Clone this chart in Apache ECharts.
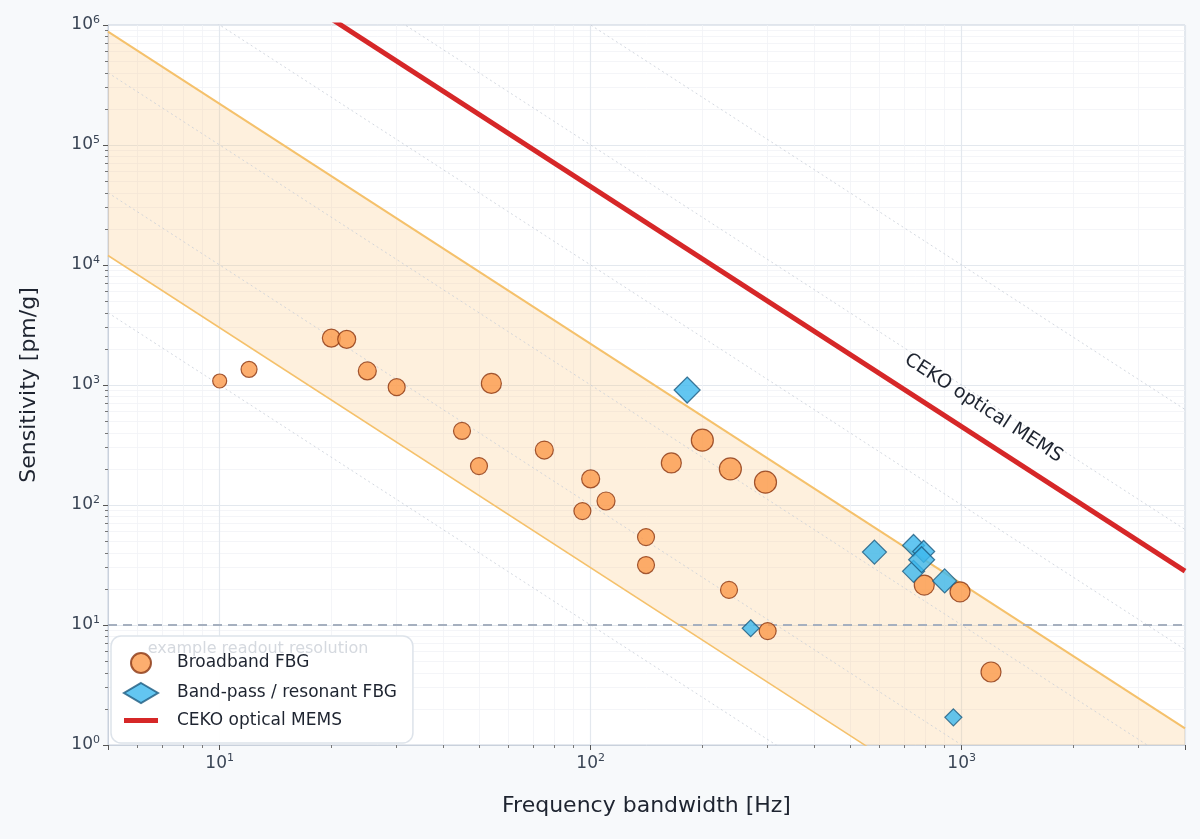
<!DOCTYPE html>
<html><head><meta charset="utf-8">
<script src="https://cdn.jsdelivr.net/npm/echarts@6/dist/echarts.min.js"></script>
<style>html,body{margin:0;background:#f7f9fb}#c{width:1200px;height:839px}</style>
</head><body><div id="c"></div>
<script>
// broadband FBG: [bandwidth Hz, sensitivity pm/g]
const bbFreq = [10, 12, 20, 22, 25, 30, 54, 45, 50, 75, 100, 110, 95, 141, 141, 165, 200, 238, 296, 236, 300, 793, 990, 1200];
const bbSens = [1080, 1350, 2460, 2400, 1310, 960, 1030, 414, 211, 287, 165, 108, 89, 54, 31.6, 224, 347, 200, 155, 19.6, 8.9, 21.5, 18.9, 4.06];
const bbSize = [14, 16, 18, 18, 18, 17, 20, 17, 17, 18, 18, 18, 17, 17, 17, 20, 22, 22, 22, 17, 17, 20, 20, 20];
// band-pass / resonant FBG
const bpFreq = [182, 582, 742, 790, 742, 780, 900, 270, 950];
const bpSens = [908, 40.5, 46, 41, 28, 35, 23.3, 9.4, 1.7];
const bpSize = [26, 24, 22, 22, 22, 26, 24, 17, 17];
// S = C / f^2 lines
const bandUpperC = 2.2e7;
const bandLowerC = 3e5;
const cekoC = 4.5e8;
const isoC = [1e5, 1e6, 1e7, 1e8, 1e9, 1e10];
const fMin = 5, fMax = 4000;
const resolution = 10;

const sup = v => { const e = Math.round(Math.log10(v)); return '10{s|' + e + '}'; };
const chart = echarts.init(document.getElementById('c'));
const font = 'DejaVu Sans';
const lineOf = C => [[fMin, C / fMin / fMin], [fMax, C / fMax / fMax]];
const bandPoly = [[fMin, bandUpperC / 25], [fMax, bandUpperC / fMax / fMax], [fMax, 1], [Math.sqrt(bandLowerC), 1], [fMin, bandLowerC / 25]];

const axisCommon = {
  type: 'log', logBase: 10,
  axisLine: {show: true, lineStyle: {color: '#c9d1dc'}},
  axisTick: {show: true, lineStyle: {color: '#555'}, length: 5},
  minorTick: {show: true, splitNumber: 9, length: 3, lineStyle: {color: '#777'}},
  splitLine: {show: true, lineStyle: {color: '#e3e8ee', width: 1.2}},
  minorSplitLine: {show: true, lineStyle: {color: '#f1f3f6', width: 0.8}},
  axisLabel: {formatter: sup, color: '#3a4555', fontFamily: font, fontSize: 17,
    rich: {s: {fontSize: 11, verticalAlign: 'top', padding: [0, 0, 10, 0], color: '#3a4555', fontFamily: font}}},
  nameTextStyle: {fontFamily: font, fontSize: 22, color: '#1e2430'}
};

chart.setOption({
  backgroundColor: '#f7f9fb',
  animation: false,
  grid: {left: 108, right: 15, top: 25, bottom: 94, show: true, backgroundColor: '#fff', borderColor: '#c9d1dc'},
  xAxis: Object.assign({}, axisCommon, {min: fMin, max: fMax, name: 'Frequency bandwidth [Hz]', nameLocation: 'middle', nameGap: 50,
    axisLabel: Object.assign({}, axisCommon.axisLabel, {showMinLabel: false, showMaxLabel: false})}),
  yAxis: Object.assign({}, axisCommon, {min: 1, max: 1e6, name: 'Sensitivity [pm/g]', nameLocation: 'middle', nameGap: 68}),
  legend: {
    left: 111, bottom: 96, orient: 'vertical', itemGap: 8, padding: [16, 16, 14, 12],
    backgroundColor: 'rgba(255,255,255,0.94)', borderColor: '#dde3ea', borderWidth: 1.5, borderRadius: 10,
    textStyle: {fontFamily: font, fontSize: 17, color: '#1e2430', padding: [0, 0, 0, 14]}, itemWidth: 34, itemHeight: 20,
    data: [
      {name: 'Broadband FBG', icon: 'circle'},
      {name: 'Band-pass / resonant FBG', icon: 'diamond'},
      {name: 'CEKO optical MEMS', icon: 'path://M0,0 L34,0 L34,5 L0,5 Z'}
    ]
  },
  series: [
    {type: 'custom', silent: true, z: 1, data: [0],
      renderItem: (p, api) => ({type: 'polygon', shape: {points: bandPoly.map(d => api.coord(d))},
        style: {fill: 'rgba(253,196,120,0.25)', stroke: null}})},
    ...isoC.map(C => ({type: 'line', silent: true, z: 2, symbol: 'none', data: lineOf(C),
      lineStyle: {color: '#c8ced8', width: 0.8, type: [2, 3]}})),
    {type: 'line', silent: true, z: 3, symbol: 'none', data: lineOf(bandUpperC), lineStyle: {color: '#f5c16b', width: 2}},
    {type: 'line', silent: true, z: 3, symbol: 'none', data: lineOf(bandLowerC), lineStyle: {color: '#f5c16b', width: 1.5}},
    {type: 'line', silent: true, z: 3, symbol: 'none', data: [[fMin, resolution], [fMax, resolution]],
      lineStyle: {color: '#a6b0bf', width: 2, type: [9, 6]},
      markPoint: {symbol: 'rect', symbolSize: 0, data: [{coord: [6.2, 6.3], label: {show: true, formatter: 'example readout resolution', position: 'right', color: '#d5d9df', fontFamily: font, fontSize: 16}}]}},
    {name: 'CEKO optical MEMS', type: 'line', z: 4, symbol: 'none', data: lineOf(cekoC),
      itemStyle: {color: '#d62728'}, lineStyle: {color: '#d62728', width: 5},
      markPoint: {symbol: 'rect', symbolSize: 0, data: [{coord: [1146, 640], label: {show: true, formatter: 'CEKO optical MEMS', rotate: -33, color: '#1e2430', fontFamily: font, fontSize: 19}}]}},
    {name: 'Broadband FBG', type: 'scatter', z: 5, symbol: 'circle',
      data: bbFreq.map((f, i) => [f, bbSens[i], bbSize[i]]), symbolSize: d => d[2],
      itemStyle: {color: '#fb9a4b', borderColor: '#8a3510', borderWidth: 1.2}},
    {name: 'Band-pass / resonant FBG', type: 'scatter', z: 6, symbol: 'diamond',
      data: bpFreq.map((f, i) => [f, bpSens[i], bpSize[i]]), symbolSize: d => [d[2], d[2]],
      itemStyle: {color: '#3cb8ee', borderColor: '#1b5a80', borderWidth: 1.2}}
  ]
});
</script></body></html>
